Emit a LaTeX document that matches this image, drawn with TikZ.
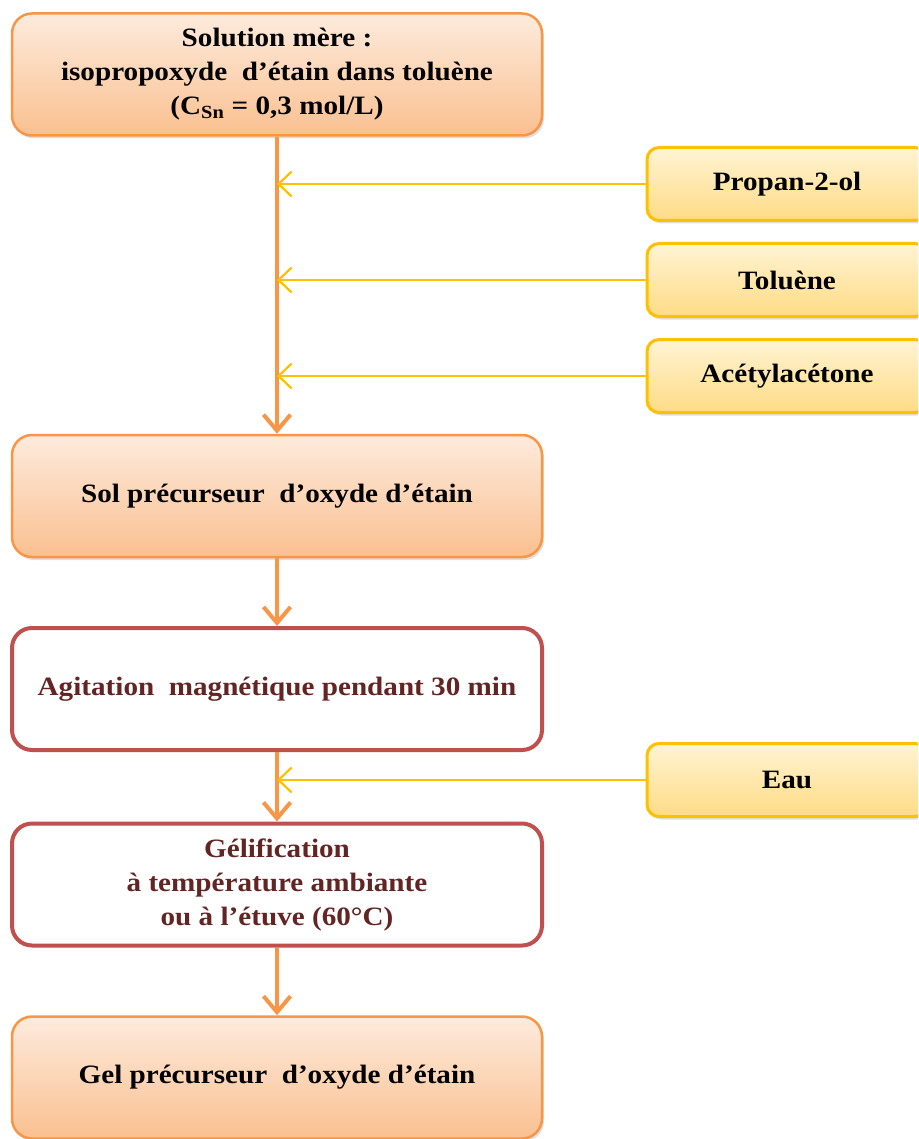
\documentclass[tikz,border=0pt]{standalone}
\usepackage{fontspec}
\setmainfont[FakeStretch=1.1]{Liberation Serif}
\usetikzlibrary{arrows.meta,shadows}
\definecolor{orangeline}{HTML}{F79646}
\definecolor{orangetop}{HTML}{FDEBDD}
\definecolor{orangebot}{HTML}{FAC090}
\definecolor{yellowline}{HTML}{FFC000}
\definecolor{yellowtop}{HTML}{FFF4D4}
\definecolor{yellowbot}{HTML}{FFDB85}
\definecolor{redline}{HTML}{C0504D}
\definecolor{redtext}{HTML}{632523}
\tikzset{
  stagebox/.style={rectangle,rounded corners=20pt,minimum width=530pt,minimum height=122pt,
    align=center,font=\bfseries\fontsize{26.5}{34}\selectfont,text=black},
  solbox/.style={stagebox,draw=orangeline,line width=2.5pt,top color=orangetop,bottom color=orangebot,
    drop shadow={shadow xshift=2pt,shadow yshift=-3pt,opacity=.25}},
  redbox/.style={stagebox,draw=redline,line width=4pt,fill=white,text=redtext},
  addbox/.style={rectangle,rounded corners=12pt,minimum width=280pt,minimum height=73pt,
    draw=yellowline,line width=3pt,top color=yellowtop,bottom color=yellowbot,
    font=\bfseries\fontsize{26.5}{34}\selectfont,
    drop shadow={shadow xshift=2pt,shadow yshift=-3pt,opacity=.25}},
  flow/.style={draw=orangeline,line width=4pt,-{Straight Barb[length=16pt,width=27pt]}},
  feed/.style={draw=yellowline,line width=2pt,-{Straight Barb[length=13pt,width=25pt,line width=2.2pt]}}
}
\begin{document}
\begin{tikzpicture}[x=1pt,y=-1pt,join=round] % preparation du sol et du gel
        \useasboundingbox (0,0) rectangle (918,1139);
        \clip (0,0) rectangle (918,1139);
        % etapes principales
        \node[solbox] (mere) at (277,74.5) {Solution mère :\\isopropoxyde\ \ d’étain dans toluène\\(C\textsubscript{Sn} = 0,3 mol/L)};
        \node[solbox] (sol) at (277,496) {Sol précurseur\ \ d’oxyde d’étain};
        \node[redbox] (agit) at (277,689) {Agitation\ \ magnétique pendant 30 min};
        \node[redbox] (gelif) at (277,884.5) {Gélification\\à température ambiante\\ou à l’étuve (60°C)};
        \node[solbox] (gel) at (277,1077.5) {Gel précurseur\ \ d’oxyde d’étain};
        % ajouts
        \node[addbox] (prop) at (787,184) {Propan-2-ol};
        \node[addbox] (tol) at (787,280) {Toluène};
        \node[addbox] (acac) at (787,376) {Acétylacétone};
        \node[addbox] (eau) at (787,780) {Eau};
        \draw[flow] (mere.south) -- (sol.north);
        \draw[flow] (sol.south) -- (agit.north);
        \draw[flow] (agit.south) -- (gelif.north);
        \draw[flow] (gelif.south) -- (gel.north);
        \draw[feed] (prop.west) -- (prop.west -| mere.south);
        \draw[feed] (tol.west) -- (tol.west -| mere.south);
        \draw[feed] (acac.west) -- (acac.west -| mere.south);
        \draw[feed] (eau.west) -- (eau.west -| agit.south);
\end{tikzpicture}
\end{document}
